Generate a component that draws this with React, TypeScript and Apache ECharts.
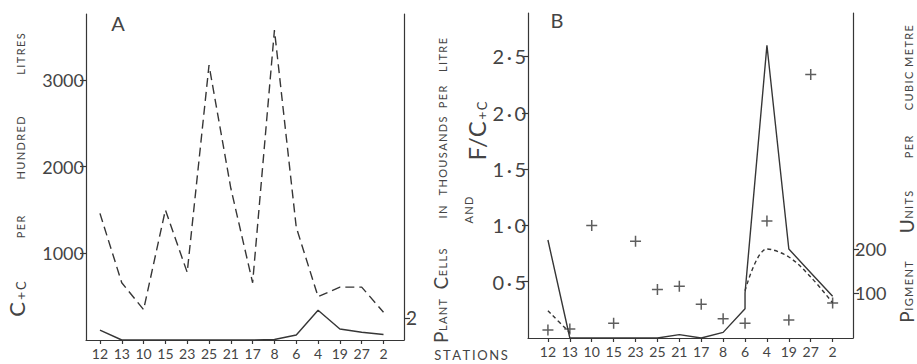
import React, { useEffect, useRef } from 'react';
import * as echarts from 'echarts';

// ---- data ----
const stations = ['12', '13', '10', '15', '23', '25', '21', '17', '8', '6', '4', '19', '27', '2'];
// Panel A
const ccPerHundredLitres = [1460, 660, 350, 1500, 780, 3170, 1750, 660, 3575, 1300, 500, 610, 610, 320];
const plantCellsThousands = [0.9, 0, 0, 0, 0, 0, 0, 0, 0.05, 0.45, 2.7, 1.0, 0.7, 0.5];
const ccTicks = [1000, 2000, 3000];
const plantCellTicks = [2];
// Panel B
const ratioSolid = [0.87, 0, 0, 0, 0, 0, 0.03, 0, 0.05, 0.26, 2.6, 0.79, 0.58, 0.37];
const ratioSolidStation6Top = 0.4;
const ratioPlus = [0.07, 0.08, 1.0, 0.13, 0.86, 0.43, 0.46, 0.3, 0.17, 0.13, 1.04, 0.16, 2.34, 0.31];
const pigmentUnits = [61, 12, null, null, null, null, null, null, null, 106, 200, 182, 137, 79];
const ratioTicks = [0.5, 1, 1.5, 2, 2.5];
const pigmentTicks = [100, 200];

const FONT_NAME = 'Lato';
const FONT = 'Lato, "Open Sans", sans-serif';
const INK = '#363636';
const TEXT = '#444444';

const stationIdx = stations.map((_, i) => i);
const sp = (s: string) => s.split('').join('\u2009');

let measureCtx: CanvasRenderingContext2D | null = null;
function measure(t: string, size: number) {
  if (!measureCtx) measureCtx = document.createElement('canvas').getContext('2d');
  if (!measureCtx) return t.length * size * 0.6;
  measureCtx.font = `${size}px ${FONT_NAME}`;
  return measureCtx.measureText(t).width;
}

type Part = { t: string; size: number };

// vertical text reading bottom-to-top, parts laid upward, right edge (baseline side) at xRight
function vseq(xRight: number, yCenter: number, parts: Part[], gap = 1) {
  const widths = parts.map((p) => measure(p.t, p.size));
  const total = widths.reduce((a, b) => a + b, 0) + gap * (parts.length - 1);
  let y = yCenter + total / 2;
  const els: any[] = [];
  parts.forEach((p, i) => {
    els.push({
      type: 'text',
      x: xRight + (p.size > 12 ? 1.5 : 0),
      y,
      rotation: Math.PI / 2,
      style: {
        text: p.t,
        fontSize: p.size,
        fontFamily: FONT,
        fill: TEXT,
        align: 'left',
        verticalAlign: 'bottom',
        textAlign: 'left',
        textVerticalAlign: 'bottom',
      },
    });
    y -= widths[i] + gap;
  });
  return els;
}

function vword(xRight: number, yCenter: number, big: string, small: string) {
  const parts: Part[] = [];
  if (big) parts.push({ t: big, size: 19 });
  if (small) parts.push({ t: sp(small), size: 11 });
  return vseq(xRight, yCenter, parts, 0.5);
}

function plainText(x: number, y: number, text: string, size: number) {
  return {
    type: 'text',
    x,
    y,
    style: {
      text,
      fontSize: size,
      fontFamily: FONT,
      fill: TEXT,
      align: 'center',
      verticalAlign: 'middle',
      textAlign: 'center',
      textVerticalAlign: 'middle',
    },
  };
}

const axisLineStyle = { color: INK, width: 1.2 };

function xAxisFor(gridIndex: number, min: number, max: number) {
  return {
    type: 'value',
    gridIndex,
    min,
    max,
    axisLine: { show: true, onZero: false, lineStyle: axisLineStyle },
    axisTick: { show: true, length: 4, lineStyle: axisLineStyle, customValues: stationIdx },
    axisLabel: {
      customValues: stationIdx,
      formatter: (v: number) => stations[Math.round(v)] ?? '',
      fontSize: 14,
      fontFamily: FONT,
      color: TEXT,
      margin: 6,
    },
    splitLine: { show: false },
  };
}

function yAxisFor(
  gridIndex: number,
  position: 'left' | 'right',
  max: number,
  ticks: number[],
  fontSize: number,
  formatter?: (v: number) => string
) {
  return {
    type: 'value',
    gridIndex,
    position,
    min: 0,
    max,
    axisLine: { show: true, onZero: false, lineStyle: axisLineStyle },
    axisTick: { show: true, length: 6, lineStyle: axisLineStyle, customValues: ticks },
    axisLabel: {
      customValues: ticks,
      fontSize,
      fontFamily: FONT,
      color: TEXT,
      margin: 2,
      formatter: formatter ?? ((v: number) => String(v)),
    },
    splitLine: { show: false },
  };
}

export default function App() {
  const ref = useRef<HTMLDivElement>(null);

  useEffect(() => {
    document.body.style.margin = '0';
    if (!ref.current) return;
    const chart = echarts.init(ref.current, undefined, { renderer: 'svg' });

    const bSolid: [number, number][] = [];
    ratioSolid.forEach((v, i) => {
      bSolid.push([i, v]);
      if (i === 9) bSolid.push([i, ratioSolidStation6Top]);
    });

    const graphics: any[] = [
      plainText(118, 23, 'A', 20),
      plainText(557, 20, 'B', 20),
      plainText(471, 355, sp('STATIONS'), 13),
      // left label of A
      ...vword(26, 54, '', 'LITRES'),
      ...vword(26, 148, '', 'HUNDRED'),
      ...vword(26, 227, '', 'PER'),
      ...vseq(26, 299, [
        { t: 'C', size: 22 },
        { t: '+', size: 14 },
        { t: 'C', size: 13 },
      ], 2),
      // right label of A
      ...vword(448, 321, 'P', 'LANT'),
      ...vword(448, 269, 'C', 'ELLS'),
      ...vword(448, 212, '', 'IN'),
      ...vword(448, 156, '', 'THOUSANDS'),
      ...vword(448, 97, '', 'PER'),
      ...vword(448, 55, '', 'LITRE'),
      // left label of B
      ...vword(474, 210, '', 'AND'),
      ...vseq(487, 131, [
        { t: 'F/C', size: 24 },
        { t: '+', size: 14 },
        { t: 'C', size: 13 },
      ], 1.5),
      // right label of B
      ...vword(914, 292, 'P', 'IGMENT'),
      ...vword(914, 212, 'U', 'NITS'),
      ...vword(914, 147, '', 'PER'),
      ...vword(914, 91, '', 'CUBIC'),
      ...vword(914, 46, '', 'METRE'),
    ];

    const option: any = {
      animation: false,
      backgroundColor: '#ffffff',
      grid: [
        { left: 86, top: 14, width: 318, height: 326 },
        { left: 528, top: 13, width: 325, height: 325 },
      ],
      xAxis: [xAxisFor(0, -0.64, 13.94), xAxisFor(1, -0.91, 13.93)],
      yAxis: [
        yAxisFor(0, 'left', 3760, ccTicks, 18),
        yAxisFor(0, 'right', 29.6, plantCellTicks, 19),
        yAxisFor(1, 'left', 2.886, ratioTicks, 20, (v: number) =>
          v.toFixed(1).replace('.', '\u2009\u00b7\u2009')
        ),
        yAxisFor(1, 'right', 730, pigmentTicks, 18),
      ],
      series: [
        {
          type: 'line',
          xAxisIndex: 0,
          yAxisIndex: 0,
          data: stationIdx.map((i) => [i, ccPerHundredLitres[i]]),
          symbol: 'none',
          lineStyle: { color: INK, width: 1.4, type: [9, 5] },
        },
        {
          type: 'line',
          xAxisIndex: 0,
          yAxisIndex: 1,
          data: stationIdx.map((i) => [i, plantCellsThousands[i]]),
          symbol: 'none',
          lineStyle: { color: INK, width: 1.4 },
        },
        {
          type: 'line',
          xAxisIndex: 1,
          yAxisIndex: 2,
          data: bSolid,
          symbol: 'none',
          lineStyle: { color: INK, width: 1.4 },
        },
        {
          type: 'line',
          xAxisIndex: 1,
          yAxisIndex: 3,
          data: stationIdx.map((i) => [i, pigmentUnits[i]]),
          symbol: 'none',
          smooth: 0.35,
          connectNulls: false,
          lineStyle: { color: INK, width: 1.4, type: [4, 3] },
        },
        {
          type: 'scatter',
          xAxisIndex: 1,
          yAxisIndex: 2,
          data: stationIdx.map((i) => [i, ratioPlus[i]]),
          symbol: 'path://M5 0 L5 10 M0 5 L10 5',
          symbolSize: 11,
          itemStyle: { color: 'none', borderColor: INK, borderWidth: 1.5 },
        },
      ],
      graphic: graphics,
    };

    chart.setOption(option);
    return () => chart.dispose();
  }, []);

  return <div ref={ref} style={{ width: 917, height: 364 }} />;
}
